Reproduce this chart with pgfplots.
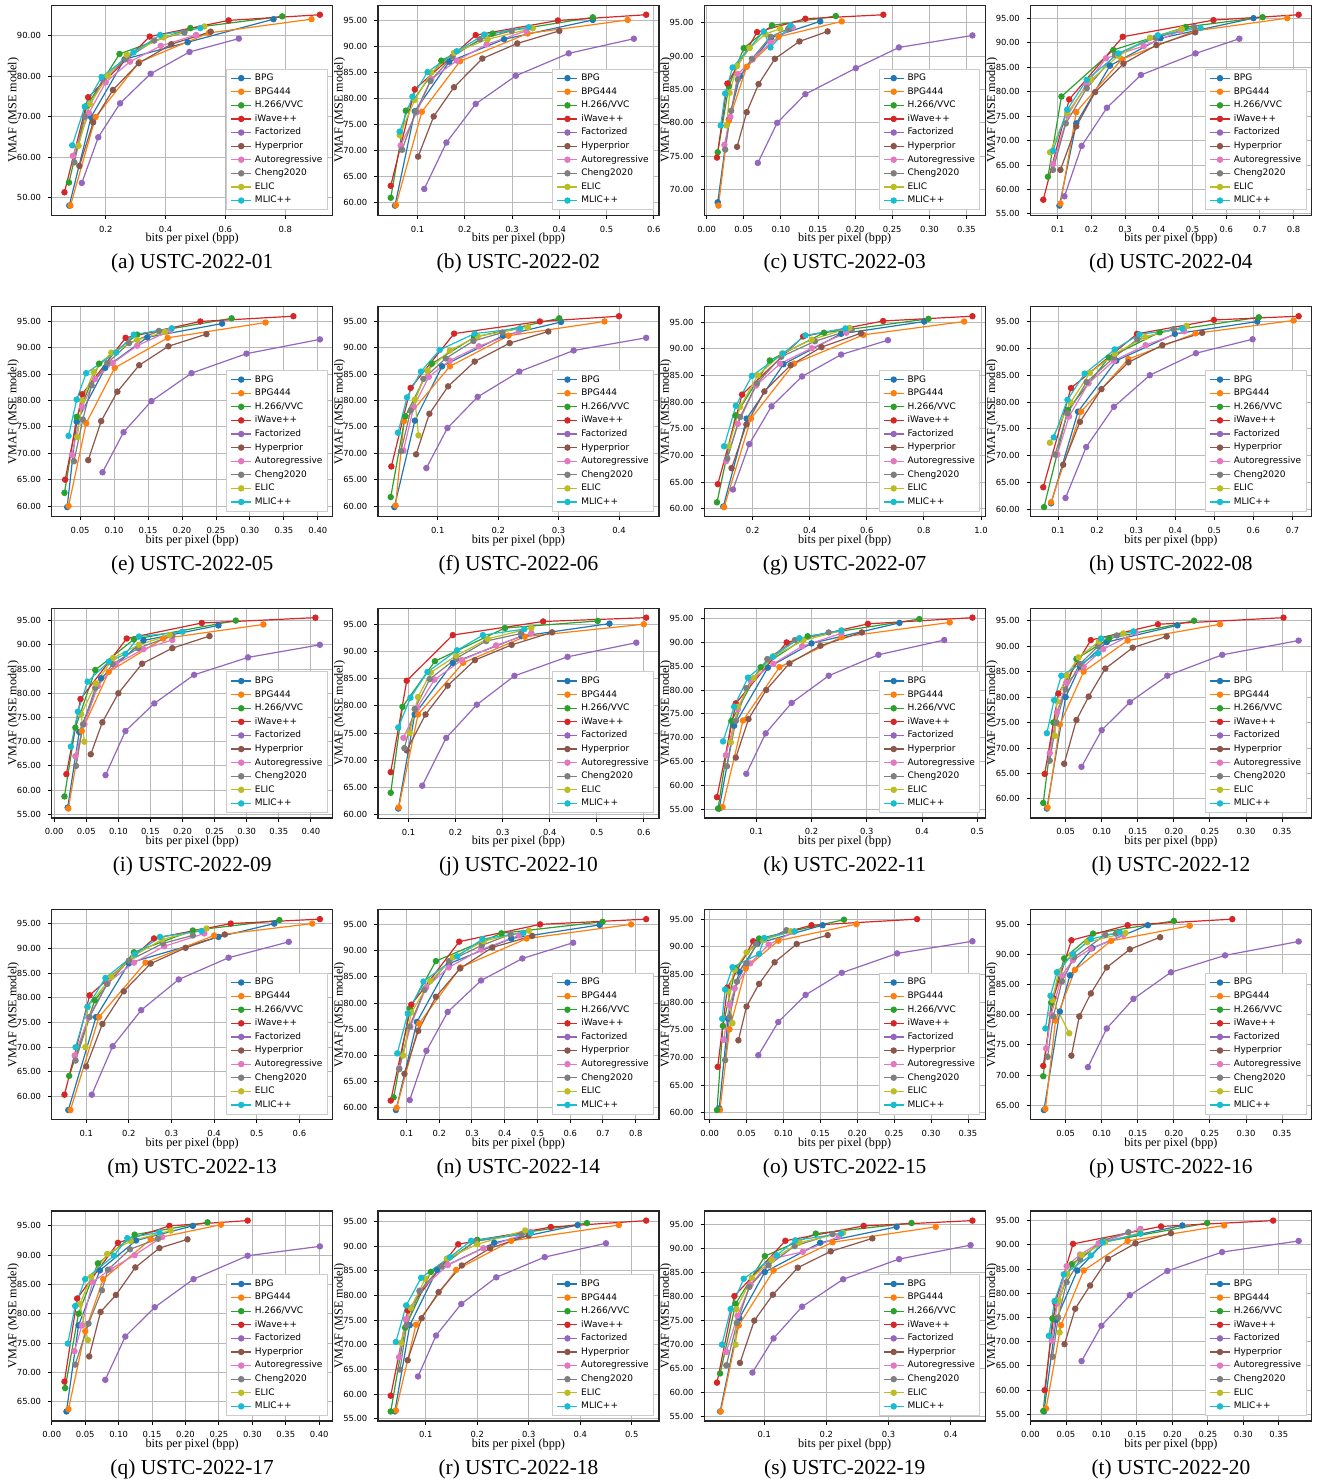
\documentclass[border=0pt]{standalone}
\usepackage{pgfplots}
\pgfplotsset{compat=1.18}
\usepgfplotslibrary{groupplots}
\usepackage{fontspec}
\setmainfont{Liberation Serif}
\newfontfamily\dejavu{DejaVu Sans}

\definecolor{c0}{HTML}{1F77B4}
\definecolor{c1}{HTML}{FF7F0E}
\definecolor{c2}{HTML}{2CA02C}
\definecolor{c3}{HTML}{D62728}
\definecolor{c4}{HTML}{9467BD}
\definecolor{c5}{HTML}{8C564B}
\definecolor{c6}{HTML}{E377C2}
\definecolor{c7}{HTML}{7F7F7F}
\definecolor{c8}{HTML}{BCBD22}
\definecolor{c9}{HTML}{17BECF}

\pgfplotscreateplotcyclelist{tab}{
{c0,mark=*},{c1,mark=*},{c2,mark=*},{c3,mark=*},{c4,mark=*},
{c5,mark=*},{c6,mark=*},{c7,mark=*},{c8,mark=*},{c9,mark=*}}

\pgfplotsset{
  p1/.style={xtick distance=0.1},
  p2/.style={xtick distance=0.05, x tick label style={/pgf/number format/precision=2}},
}

\begin{document}
\begin{tikzpicture}
\begin{groupplot}[
  group style={group size=4 by 5, horizontal sep=22.65pt, vertical sep=45.75pt, group name=G},
  width=140.5pt, height=105pt, scale only axis,
  enlargelimits=0.05,
  grid=major, grid style={black!28, line width=0.45pt},
  axis line style={line width=0.6pt, black!85},
  tick align=outside, tick pos=left, major tick length=1.8pt,
  tick style={line width=0.45pt, black},
  tick label style={font=\dejavu\fontsize{4.2}{5}\selectfont},
  /pgf/number format/assume math mode=true,
  ytick distance=5,
  y tick label style={/pgf/number format/.cd, fixed, fixed zerofill, precision=2},
  x tick label style={/pgf/number format/.cd, fixed, fixed zerofill, precision=1},
  xlabel={bits per pixel (bpp)}, ylabel={VMAF (MSE model)},
  label style={font=\fontsize{6.1}{7.3}\selectfont},
  xlabel style={at={(axis description cs:0.5,-0.113)}, anchor=center},
  ylabel style={at={(axis description cs:-0.136,0.5)}, anchor=center},
  title style={at={(axis description cs:0.5,-0.227)}, anchor=center, yshift=-6.5pt, font=\fontsize{10.7}{12.5}\selectfont},
  cycle list name=tab,
  every axis plot/.append style={line width=0.6pt, mark size=1.3pt},
  legend entries={BPG,BPG444,H.266/VVC,iWave++,Factorized,Hyperprior,Autoregressive,Cheng2020,ELIC,MLIC++},
  legend cell align=left,
  legend image code/.code={\draw[mark repeat=2,mark phase=2] plot coordinates {(0pt,0pt) (5pt,0pt) (10pt,0pt)};},
  legend style={at={(0.982,0.024)}, anchor=south east, font=\dejavu\fontsize{4.5}{5.4}\selectfont,
    draw=black!20, fill=white, row sep=1.6pt, column sep=1.2pt, inner xsep=2pt, inner ysep=2pt,
    nodes={inner sep=0.4pt, text height=3.4pt, text depth=1pt}},
]

% (a)
\nextgroupplot[title={(a) USTC-2022-01}, xtick distance=0.2, ytick distance=10]
\addplot coordinates {(0.078,48.0)(0.151,69.9)(0.263,84.2)(0.474,88.4)(0.761,94.1)};
\addplot coordinates {(0.082,48.0)(0.166,69.9)(0.312,83.5)(0.545,90.7)(0.888,94.1)};
\addplot coordinates {(0.077,53.7)(0.137,72.7)(0.246,85.5)(0.483,91.9)(0.79,94.8)};
\addplot coordinates {(0.062,51.3)(0.141,74.8)(0.347,89.8)(0.611,93.8)(0.916,95.2)};
\addplot coordinates {(0.12,53.6)(0.175,64.9)(0.248,73.3)(0.35,80.6)(0.48,86.0)(0.645,89.3)};
\addplot coordinates {(0.112,57.8)(0.158,68.6)(0.224,76.6)(0.31,83.2)(0.419,87.9)(0.551,91.0)};
\addplot coordinates {(0.09,60.3)(0.144,70.9)(0.2,78.5)(0.281,83.6)(0.384,87.5)(0.502,90.2)};
\addplot coordinates {(0.095,58.7)(0.13,70.0)(0.19,79.3)(0.266,84.2)(0.362,88.8)(0.463,90.8)};
\addplot coordinates {(0.109,62.8)(0.147,73.1)(0.207,80.1)(0.27,85.3)(0.394,89.6)(0.53,92.3)};
\addplot coordinates {(0.088,62.9)(0.13,72.5)(0.186,79.8)(0.293,85.9)(0.382,90.2)(0.516,91.9)};

% (b)
\nextgroupplot[title={(b) USTC-2022-02}, p1]
\addplot coordinates {(0.052,59.4)(0.094,77.5)(0.167,87.0)(0.283,91.3)(0.471,95.0)};
\addplot coordinates {(0.054,59.5)(0.109,77.4)(0.19,87.1)(0.333,92.4)(0.545,95.0)};
\addplot coordinates {(0.043,60.9)(0.075,77.6)(0.15,87.2)(0.259,92.4)(0.471,95.5)};
\addplot coordinates {(0.043,63.2)(0.094,81.7)(0.223,92.1)(0.397,94.9)(0.584,96.0)};
\addplot coordinates {(0.114,62.6)(0.161,71.5)(0.223,78.9)(0.308,84.3)(0.42,88.6)(0.558,91.4)};
\addplot coordinates {(0.101,68.8)(0.134,76.5)(0.177,82.1)(0.237,87.6)(0.311,90.5)(0.4,92.9)};
\addplot coordinates {(0.064,70.9)(0.098,77.3)(0.129,83.7)(0.183,87.2)(0.246,90.3)(0.33,92.9)};
\addplot coordinates {(0.067,70.1)(0.096,77.4)(0.127,83.3)(0.174,88.0)(0.232,91.3)(0.299,92.9)};
\addplot coordinates {(0.062,72.9)(0.094,79.7)(0.129,84.9)(0.177,88.7)(0.248,91.3)(0.344,93.4)};
\addplot coordinates {(0.062,73.6)(0.089,80.3)(0.121,85.0)(0.183,89.0)(0.241,92.2)(0.335,93.6)};

% (c)
\nextgroupplot[title={(c) USTC-2022-03}, p2]
\addplot coordinates {(0.015,68.1)(0.03,80.5)(0.045,87.0)(0.087,92.8)(0.153,95.2)};
\addplot coordinates {(0.016,67.6)(0.03,80.3)(0.054,88.4)(0.097,92.9)(0.182,95.2)};
\addplot coordinates {(0.015,75.6)(0.03,85.5)(0.05,91.2)(0.088,94.6)(0.174,96.0)};
\addplot coordinates {(0.014,74.8)(0.028,85.9)(0.068,93.6)(0.133,95.6)(0.238,96.2)};
\addplot coordinates {(0.069,74.0)(0.095,80.0)(0.133,84.3)(0.201,88.2)(0.259,91.3)(0.358,93.1)};
\addplot coordinates {(0.041,76.4)(0.054,81.6)(0.07,85.8)(0.092,89.6)(0.125,92.2)(0.163,93.7)};
\addplot coordinates {(0.024,76.7)(0.032,80.9)(0.042,87.3)(0.062,89.5)(0.086,92.0)(0.116,94.3)};
\addplot coordinates {(0.025,76.0)(0.033,81.8)(0.042,86.5)(0.061,89.6)(0.086,92.9)(0.11,94.1)};
\addplot coordinates {(0.027,79.6)(0.031,84.5)(0.041,88.5)(0.058,91.2)(0.079,93.3)(0.099,94.1)};
\addplot coordinates {(0.019,79.6)(0.025,84.4)(0.035,88.3)(0.077,93.7)(0.086,91.3)(0.113,94.6)};

% (d)
\nextgroupplot[title={(d) USTC-2022-04}, p1]
\addplot coordinates {(0.105,56.7)(0.155,73.5)(0.255,85.3)(0.405,90.9)(0.681,95.0)};
\addplot coordinates {(0.108,57.1)(0.155,75.8)(0.29,86.6)(0.508,92.4)(0.781,95.0)};
\addplot coordinates {(0.071,62.6)(0.111,79.0)(0.265,88.5)(0.48,93.2)(0.708,95.2)};
\addplot coordinates {(0.057,57.9)(0.134,78.4)(0.293,91.2)(0.562,94.6)(0.815,95.7)};
\addplot coordinates {(0.12,58.6)(0.171,68.9)(0.246,76.7)(0.347,83.4)(0.509,87.8)(0.639,90.8)};
\addplot coordinates {(0.108,64.0)(0.155,72.9)(0.211,79.9)(0.295,85.7)(0.393,89.5)(0.508,92.1)};
\addplot coordinates {(0.086,65.2)(0.13,75.2)(0.185,81.5)(0.243,86.8)(0.355,89.3)(0.465,92.4)};
\addplot coordinates {(0.086,64.0)(0.124,73.5)(0.186,80.7)(0.27,87.5)(0.39,91.0)(0.505,93.2)};
\addplot coordinates {(0.077,67.6)(0.128,75.6)(0.199,82.4)(0.28,87.3)(0.374,91.0)(0.468,92.8)};
\addplot coordinates {(0.086,67.9)(0.128,76.3)(0.186,82.4)(0.28,87.8)(0.397,91.5)(0.524,93.0)};

% (e)
\nextgroupplot[title={(e) USTC-2022-05}, p2]
\addplot coordinates {(0.031,59.8)(0.045,76.0)(0.087,86.2)(0.149,92.0)(0.259,94.6)};
\addplot coordinates {(0.033,60.0)(0.059,75.7)(0.101,86.2)(0.179,91.9)(0.323,94.8)};
\addplot coordinates {(0.027,62.5)(0.045,76.9)(0.078,87.0)(0.134,92.5)(0.273,95.6)};
\addplot coordinates {(0.028,65.0)(0.053,81.2)(0.117,91.9)(0.227,95.0)(0.364,96.0)};
\addplot coordinates {(0.083,66.4)(0.114,74.0)(0.155,79.9)(0.214,85.2)(0.295,88.9)(0.403,91.6)};
\addplot coordinates {(0.062,68.7)(0.081,76.1)(0.105,81.7)(0.137,86.7)(0.18,90.3)(0.236,92.6)};
\addplot coordinates {(0.038,69.7)(0.053,78.8)(0.072,84.1)(0.098,87.1)(0.134,90.4)(0.183,93.3)};
\addplot coordinates {(0.041,68.5)(0.054,76.4)(0.067,82.9)(0.09,87.1)(0.122,90.9)(0.166,93.2)};
\addplot coordinates {(0.046,73.1)(0.053,80.0)(0.07,85.4)(0.096,89.1)(0.134,91.5)(0.175,93.0)};
\addplot coordinates {(0.033,73.3)(0.045,80.2)(0.059,85.2)(0.103,89.1)(0.129,92.5)(0.185,93.7)};

% (f)
\nextgroupplot[title={(f) USTC-2022-06}, p1]
\addplot coordinates {(0.028,59.8)(0.062,76.2)(0.107,86.5)(0.208,92.3)(0.304,94.9)};
\addplot coordinates {(0.03,60.1)(0.044,76.1)(0.12,86.5)(0.217,92.3)(0.376,95.0)};
\addplot coordinates {(0.022,61.7)(0.046,77.0)(0.09,87.0)(0.16,92.0)(0.301,95.6)};
\addplot coordinates {(0.023,67.5)(0.055,82.4)(0.127,92.7)(0.269,95.0)(0.4,96.0)};
\addplot coordinates {(0.081,67.2)(0.116,74.8)(0.166,80.7)(0.235,85.5)(0.325,89.5)(0.445,91.9)};
\addplot coordinates {(0.064,69.8)(0.086,77.5)(0.117,82.7)(0.161,87.4)(0.219,90.9)(0.283,93.1)};
\addplot coordinates {(0.043,70.5)(0.06,78.8)(0.085,84.5)(0.12,87.6)(0.168,90.3)(0.234,93.1)};
\addplot coordinates {(0.039,70.4)(0.055,78.1)(0.076,84.1)(0.113,88.0)(0.159,91.3)(0.207,92.9)};
\addplot coordinates {(0.068,73.4)(0.062,80.2)(0.083,85.7)(0.12,89.5)(0.166,92.2)(0.249,93.9)};
\addplot coordinates {(0.034,73.9)(0.049,80.6)(0.072,85.5)(0.103,89.6)(0.161,92.7)(0.236,93.7)};

% (g)
\nextgroupplot[title={(g) USTC-2022-07}, xtick distance=0.2]
\addplot coordinates {(0.097,60.4)(0.179,76.9)(0.308,87.1)(0.51,92.8)(0.801,95.1)};
\addplot coordinates {(0.1,60.3)(0.194,76.9)(0.345,87.2)(0.588,92.6)(0.941,95.1)};
\addplot coordinates {(0.075,61.2)(0.14,77.5)(0.26,87.8)(0.45,93.0)(0.816,95.6)};
\addplot coordinates {(0.078,64.6)(0.163,81.4)(0.377,92.3)(0.657,95.2)(0.97,96.1)};
\addplot coordinates {(0.131,63.6)(0.188,72.1)(0.266,79.2)(0.373,84.8)(0.51,88.9)(0.674,91.6)};
\addplot coordinates {(0.126,67.6)(0.178,75.8)(0.241,82.0)(0.333,86.9)(0.441,90.3)(0.579,92.9)};
\addplot coordinates {(0.107,68.9)(0.148,75.9)(0.212,83.1)(0.296,87.2)(0.407,90.1)(0.528,93.0)};
\addplot coordinates {(0.111,69.4)(0.156,77.2)(0.215,83.5)(0.3,88.5)(0.418,91.4)(0.547,93.6)};
\addplot coordinates {(0.116,71.7)(0.156,79.1)(0.218,85.0)(0.303,89.1)(0.407,91.7)(0.539,93.9)};
\addplot coordinates {(0.1,71.7)(0.141,79.3)(0.197,84.9)(0.306,89.1)(0.385,92.5)(0.525,93.8)};

% (h)
\nextgroupplot[title={(h) USTC-2022-08}, p1]
\addplot coordinates {(0.082,61.1)(0.151,78.2)(0.249,87.7)(0.399,92.7)(0.61,95.0)};
\addplot coordinates {(0.082,61.3)(0.159,78.2)(0.28,88.0)(0.452,92.8)(0.703,95.2)};
\addplot coordinates {(0.064,60.4)(0.125,78.5)(0.23,88.3)(0.36,93.0)(0.614,95.8)};
\addplot coordinates {(0.062,64.1)(0.133,82.6)(0.302,92.7)(0.499,95.3)(0.716,96.0)};
\addplot coordinates {(0.119,62.1)(0.172,71.6)(0.243,79.1)(0.335,85.0)(0.453,89.1)(0.598,91.7)};
\addplot coordinates {(0.113,68.3)(0.156,76.3)(0.211,82.4)(0.28,87.4)(0.367,90.6)(0.469,92.9)};
\addplot coordinates {(0.098,70.2)(0.128,77.3)(0.178,83.5)(0.243,87.7)(0.324,90.6)(0.423,93.2)};
\addplot coordinates {(0.092,70.2)(0.124,77.9)(0.173,83.7)(0.243,88.3)(0.303,91.7)(0.396,93.6)};
\addplot coordinates {(0.079,72.4)(0.132,79.9)(0.181,85.4)(0.245,89.0)(0.323,92.1)(0.429,94.2)};
\addplot coordinates {(0.089,73.4)(0.124,80.4)(0.168,85.3)(0.245,89.8)(0.308,92.6)(0.418,93.7)};

% (i)
\nextgroupplot[title={(i) USTC-2022-09}, p2]
\addplot coordinates {(0.021,56.4)(0.039,72.0)(0.073,83.1)(0.139,90.9)(0.256,94.0)};
\addplot coordinates {(0.022,56.2)(0.043,72.2)(0.085,84.4)(0.17,91.3)(0.326,94.2)};
\addplot coordinates {(0.016,58.7)(0.033,72.9)(0.064,84.8)(0.124,91.1)(0.283,95.0)};
\addplot coordinates {(0.019,63.3)(0.041,78.8)(0.113,91.3)(0.23,94.5)(0.407,95.6)};
\addplot coordinates {(0.08,63.1)(0.111,72.2)(0.156,77.9)(0.218,83.8)(0.302,87.4)(0.414,90.0)};
\addplot coordinates {(0.057,67.4)(0.075,74.0)(0.1,80.0)(0.137,86.1)(0.184,89.3)(0.242,91.8)};
\addplot coordinates {(0.033,67.0)(0.047,73.6)(0.068,81.5)(0.096,86.0)(0.139,89.1)(0.184,91.0)};
\addplot coordinates {(0.034,65.0)(0.045,73.6)(0.064,81.1)(0.091,86.0)(0.131,89.3)(0.184,91.9)};
\addplot coordinates {(0.047,70.0)(0.042,75.7)(0.065,82.0)(0.092,87.3)(0.132,90.0)(0.18,92.0)};
\addplot coordinates {(0.026,69.0)(0.037,76.2)(0.052,82.4)(0.085,86.5)(0.111,88.1)(0.132,91.7)(0.2,92.7)};

% (j)
\nextgroupplot[title={(j) USTC-2022-10}, p1]
\addplot coordinates {(0.078,61.1)(0.113,78.4)(0.194,87.9)(0.34,92.8)(0.527,95.1)};
\addplot coordinates {(0.079,61.3)(0.12,78.4)(0.216,87.9)(0.347,92.7)(0.6,95.0)};
\addplot coordinates {(0.062,64.0)(0.087,79.8)(0.156,88.2)(0.305,94.3)(0.502,95.6)};
\addplot coordinates {(0.062,67.8)(0.096,84.6)(0.194,93.0)(0.386,95.5)(0.605,96.2)};
\addplot coordinates {(0.129,65.3)(0.18,74.1)(0.245,80.2)(0.325,85.5)(0.438,89.0)(0.584,91.6)};
\addplot coordinates {(0.096,71.8)(0.136,78.4)(0.183,83.7)(0.241,88.4)(0.319,91.2)(0.405,93.5)};
\addplot coordinates {(0.089,74.1)(0.118,79.6)(0.155,84.8)(0.213,88.4)(0.286,91.1)(0.361,93.4)};
\addplot coordinates {(0.091,72.2)(0.113,79.4)(0.145,84.9)(0.201,88.7)(0.265,91.9)(0.339,93.3)};
\addplot coordinates {(0.102,75.0)(0.12,81.6)(0.147,86.1)(0.201,89.2)(0.268,92.3)(0.361,94.3)};
\addplot coordinates {(0.078,76.0)(0.104,81.5)(0.14,86.2)(0.203,90.2)(0.258,93.0)(0.346,94.1)};

% (k)
\nextgroupplot[title={(k) USTC-2022-11}, p1]
\addplot coordinates {(0.033,55.1)(0.06,72.5)(0.121,84.7)(0.2,89.8)(0.359,94.1)};
\addplot coordinates {(0.039,55.4)(0.076,73.6)(0.142,84.8)(0.254,91.1)(0.45,94.2)};
\addplot coordinates {(0.031,55.1)(0.055,73.5)(0.108,84.8)(0.193,91.3)(0.395,94.9)};
\addplot coordinates {(0.029,57.5)(0.063,77.2)(0.155,90.0)(0.302,93.9)(0.491,95.2)};
\addplot coordinates {(0.082,62.4)(0.117,70.9)(0.164,77.3)(0.231,83.0)(0.321,87.4)(0.44,90.5)};
\addplot coordinates {(0.063,65.8)(0.086,73.9)(0.118,80.0)(0.16,85.6)(0.216,89.3)(0.291,92.1)};
\addplot coordinates {(0.045,66.3)(0.067,76.0)(0.09,82.0)(0.131,85.5)(0.183,89.2)(0.254,91.9)};
\addplot coordinates {(0.047,64.0)(0.063,73.5)(0.082,80.4)(0.12,86.5)(0.17,90.5)(0.231,92.1)};
\addplot coordinates {(0.054,69.0)(0.067,76.5)(0.095,82.5)(0.131,87.1)(0.185,90.4)(0.254,92.5)};
\addplot coordinates {(0.04,69.2)(0.06,76.5)(0.085,82.6)(0.13,87.0)(0.178,90.9)(0.254,92.5)};

% (l)
\nextgroupplot[title={(l) USTC-2022-12}, p2]
\addplot coordinates {(0.024,58.1)(0.05,80.0)(0.07,86.0)(0.107,90.8)(0.205,94.1)};
\addplot coordinates {(0.025,58.3)(0.042,74.6)(0.075,85.0)(0.136,91.1)(0.264,94.3)};
\addplot coordinates {(0.019,59.2)(0.033,75.0)(0.065,87.5)(0.11,91.5)(0.228,95.0)};
\addplot coordinates {(0.021,64.9)(0.04,80.7)(0.085,91.2)(0.178,94.3)(0.352,95.6)};
\addplot coordinates {(0.072,66.3)(0.1,73.5)(0.139,79.0)(0.191,84.2)(0.267,88.3)(0.373,91.1)};
\addplot coordinates {(0.048,66.9)(0.065,75.5)(0.082,80.1)(0.105,85.6)(0.143,89.7)(0.19,91.9)};
\addplot coordinates {(0.028,69.0)(0.038,77.0)(0.051,82.8)(0.075,86.0)(0.102,89.4)(0.147,92.7)};
\addplot coordinates {(0.028,67.5)(0.037,75.0)(0.05,81.5)(0.07,86.5)(0.095,90.0)(0.121,92.1)};
\addplot coordinates {(0.035,72.4)(0.038,79.2)(0.051,84.2)(0.068,87.8)(0.096,90.9)(0.13,92.5)};
\addplot coordinates {(0.024,72.9)(0.034,79.4)(0.044,84.2)(0.095,88.6)(0.099,91.5)(0.144,92.9)};

% (m)
\nextgroupplot[title={(m) USTC-2022-13}, p1]
\addplot coordinates {(0.058,57.3)(0.123,76.1)(0.2,87.0)(0.41,92.3)(0.541,95.0)};
\addplot coordinates {(0.063,57.3)(0.13,76.1)(0.239,87.1)(0.4,92.6)(0.63,95.0)};
\addplot coordinates {(0.06,64.2)(0.12,79.5)(0.212,89.2)(0.35,93.6)(0.553,95.7)};
\addplot coordinates {(0.049,60.4)(0.108,80.5)(0.259,92.0)(0.439,95.0)(0.648,95.9)};
\addplot coordinates {(0.113,60.4)(0.162,70.2)(0.229,77.5)(0.317,83.7)(0.434,88.1)(0.575,91.3)};
\addplot coordinates {(0.1,66.1)(0.138,74.7)(0.188,81.3)(0.251,86.9)(0.333,90.1)(0.425,92.8)};
\addplot coordinates {(0.073,68.3)(0.105,76.0)(0.15,83.0)(0.212,87.1)(0.283,90.4)(0.377,93.0)};
\addplot coordinates {(0.075,67.3)(0.108,76.1)(0.149,82.8)(0.2,87.5)(0.28,91.0)(0.35,92.6)};
\addplot coordinates {(0.098,70.0)(0.103,78.1)(0.159,84.2)(0.212,88.5)(0.278,91.8)(0.382,94.0)};
\addplot coordinates {(0.075,70.0)(0.103,78.2)(0.145,84.0)(0.214,88.8)(0.273,92.3)(0.37,93.5)};

% (n)
\nextgroupplot[title={(n) USTC-2022-14}, p1]
\addplot coordinates {(0.068,59.6)(0.132,76.4)(0.23,87.5)(0.42,92.3)(0.69,94.9)};
\addplot coordinates {(0.07,60.0)(0.139,76.1)(0.265,86.8)(0.467,92.3)(0.786,95.0)};
\addplot coordinates {(0.061,62.0)(0.11,79.0)(0.19,88.0)(0.39,93.3)(0.699,95.5)};
\addplot coordinates {(0.052,61.4)(0.115,79.7)(0.261,91.7)(0.508,95.0)(0.832,96.0)};
\addplot coordinates {(0.11,61.5)(0.161,70.9)(0.226,78.3)(0.328,84.3)(0.454,88.5)(0.609,91.5)};
\addplot coordinates {(0.094,66.5)(0.136,74.7)(0.19,81.2)(0.264,86.6)(0.362,90.6)(0.484,92.8)};
\addplot coordinates {(0.078,67.6)(0.112,75.5)(0.16,83.0)(0.229,86.8)(0.328,90.2)(0.444,92.9)};
\addplot coordinates {(0.078,67.4)(0.109,75.5)(0.155,82.5)(0.23,88.0)(0.33,91.0)(0.418,93.1)};
\addplot coordinates {(0.09,70.0)(0.115,78.2)(0.173,84.2)(0.242,88.7)(0.336,91.8)(0.474,93.8)};
\addplot coordinates {(0.072,70.4)(0.104,78.0)(0.152,84.1)(0.255,88.9)(0.332,92.2)(0.457,93.4)};

% (o)
\nextgroupplot[title={(o) USTC-2022-15}, p2]
\addplot coordinates {(0.013,60.8)(0.025,77.0)(0.04,85.5)(0.065,90.6)(0.153,93.9)};
\addplot coordinates {(0.014,60.5)(0.027,75.1)(0.049,86.1)(0.093,91.1)(0.199,94.1)};
\addplot coordinates {(0.01,60.5)(0.018,75.7)(0.035,86.0)(0.067,91.5)(0.182,94.9)};
\addplot coordinates {(0.011,68.3)(0.024,82.6)(0.059,91.0)(0.138,93.9)(0.281,95.0)};
\addplot coordinates {(0.066,70.4)(0.093,76.4)(0.13,81.3)(0.179,85.3)(0.254,88.8)(0.356,91.0)};
\addplot coordinates {(0.039,73.1)(0.05,79.2)(0.067,83.3)(0.088,87.2)(0.118,90.5)(0.16,92.1)};
\addplot coordinates {(0.019,73.2)(0.027,79.5)(0.034,82.5)(0.055,87.0)(0.08,90.4)(0.114,92.7)};
\addplot coordinates {(0.021,69.5)(0.027,77.3)(0.037,83.7)(0.05,87.0)(0.063,90.5)(0.104,93.0)};
\addplot coordinates {(0.031,76.2)(0.025,81.9)(0.034,85.8)(0.05,89.0)(0.073,91.2)(0.11,92.8)};
\addplot coordinates {(0.017,77.0)(0.021,82.3)(0.031,86.3)(0.067,88.7)(0.074,91.6)(0.115,92.8)};

% (p)
\nextgroupplot[title={(p) USTC-2022-16}, p2]
\addplot coordinates {(0.02,64.2)(0.042,80.5)(0.056,86.5)(0.087,91.0)(0.164,94.8)};
\addplot coordinates {(0.022,64.4)(0.036,79.0)(0.063,87.4)(0.113,92.2)(0.222,94.7)};
\addplot coordinates {(0.019,69.8)(0.03,82.0)(0.048,89.3)(0.088,93.4)(0.2,95.5)};
\addplot coordinates {(0.019,71.5)(0.033,82.7)(0.058,92.3)(0.136,94.8)(0.281,95.8)};
\addplot coordinates {(0.081,71.3)(0.107,77.7)(0.144,82.6)(0.196,87.0)(0.271,89.8)(0.373,92.1)};
\addplot coordinates {(0.058,73.2)(0.069,79.7)(0.085,83.5)(0.107,87.8)(0.139,90.8)(0.181,92.8)};
\addplot coordinates {(0.023,74.4)(0.03,80.0)(0.045,86.5)(0.06,89.0)(0.085,90.9)(0.13,93.2)};
\addplot coordinates {(0.025,73.0)(0.033,79.7)(0.045,85.5)(0.062,89.5)(0.105,93.2)(0.12,93.4)};
\addplot coordinates {(0.055,76.9)(0.032,82.4)(0.04,87.1)(0.058,89.9)(0.08,92.0)(0.133,93.5)};
\addplot coordinates {(0.022,77.7)(0.029,83.1)(0.038,87.0)(0.06,90.0)(0.085,92.5)(0.125,93.6)};

% (q)
\nextgroupplot[title={(q) USTC-2022-17}, p2]
\addplot coordinates {(0.022,63.3)(0.04,78.0)(0.072,87.4)(0.126,92.5)(0.211,95.0)};
\addplot coordinates {(0.025,63.7)(0.05,77.0)(0.077,85.9)(0.148,92.7)(0.253,95.2)};
\addplot coordinates {(0.02,67.3)(0.04,80.0)(0.069,88.6)(0.124,93.5)(0.233,95.6)};
\addplot coordinates {(0.019,68.4)(0.038,82.6)(0.099,92.1)(0.176,95.0)(0.293,95.9)};
\addplot coordinates {(0.08,68.7)(0.11,76.1)(0.154,81.1)(0.212,85.9)(0.293,89.9)(0.401,91.5)};
\addplot coordinates {(0.056,72.7)(0.073,80.3)(0.096,83.2)(0.125,87.9)(0.161,91.2)(0.203,92.7)};
\addplot coordinates {(0.034,73.6)(0.045,78.0)(0.061,85.4)(0.088,87.6)(0.124,90.0)(0.165,93.1)};
\addplot coordinates {(0.035,71.3)(0.055,78.3)(0.075,84.0)(0.084,87.5)(0.117,91.0)(0.159,92.8)};
\addplot coordinates {(0.054,75.5)(0.042,81.6)(0.059,86.3)(0.083,90.2)(0.118,92.4)(0.178,94.2)};
\addplot coordinates {(0.024,74.9)(0.035,81.3)(0.05,85.9)(0.093,89.9)(0.113,92.9)(0.161,93.9)};

% (r)
\nextgroupplot[title={(r) USTC-2022-18}, p1]
\addplot coordinates {(0.04,56.5)(0.069,74.0)(0.122,85.2)(0.233,90.7)(0.395,94.3)};
\addplot coordinates {(0.042,56.7)(0.081,74.1)(0.159,85.2)(0.266,91.1)(0.475,94.3)};
\addplot coordinates {(0.032,56.5)(0.06,73.5)(0.11,84.8)(0.2,91.3)(0.413,94.7)};
\addplot coordinates {(0.032,59.7)(0.065,77.0)(0.163,90.4)(0.343,93.9)(0.528,95.2)};
\addplot coordinates {(0.085,63.6)(0.12,71.9)(0.169,78.3)(0.237,83.7)(0.331,87.8)(0.45,90.6)};
\addplot coordinates {(0.065,66.9)(0.092,75.4)(0.125,80.7)(0.17,86.1)(0.225,89.6)(0.3,92.2)};
\addplot coordinates {(0.048,67.5)(0.061,75.2)(0.088,81.0)(0.143,86.2)(0.212,89.6)(0.304,92.9)};
\addplot coordinates {(0.05,65.0)(0.063,74.0)(0.088,80.9)(0.13,85.9)(0.196,91.0)(0.286,92.4)};
\addplot coordinates {(0.052,70.4)(0.071,77.5)(0.099,83.4)(0.141,87.5)(0.2,90.4)(0.293,93.2)};
\addplot coordinates {(0.042,70.6)(0.062,78.0)(0.091,83.6)(0.147,87.8)(0.188,91.1)(0.304,92.7)};

% (s)
\nextgroupplot[title={(s) USTC-2022-19}, p1]
\addplot coordinates {(0.029,56.1)(0.06,75.5)(0.101,85.1)(0.19,91.2)(0.313,94.5)};
\addplot coordinates {(0.03,56.1)(0.059,74.0)(0.115,85.4)(0.21,91.3)(0.376,94.5)};
\addplot coordinates {(0.029,64.0)(0.054,78.5)(0.101,88.4)(0.183,93.1)(0.337,95.3)};
\addplot coordinates {(0.024,62.1)(0.052,80.1)(0.134,91.6)(0.26,94.7)(0.435,95.8)};
\addplot coordinates {(0.081,64.2)(0.115,71.3)(0.161,77.9)(0.227,83.6)(0.317,87.8)(0.432,90.7)};
\addplot coordinates {(0.061,66.2)(0.084,75.0)(0.114,80.4)(0.154,86.0)(0.207,89.4)(0.274,92.1)};
\addplot coordinates {(0.039,68.5)(0.057,76.0)(0.078,82.5)(0.114,87.9)(0.162,89.3)(0.22,92.5)};
\addplot coordinates {(0.039,65.7)(0.056,74.5)(0.076,82.0)(0.107,86.5)(0.149,90.5)(0.21,93.0)};
\addplot coordinates {(0.054,70.0)(0.055,77.4)(0.08,83.9)(0.112,87.6)(0.156,91.2)(0.227,93.3)};
\addplot coordinates {(0.032,70.0)(0.046,77.4)(0.067,83.7)(0.12,88.6)(0.15,91.7)(0.224,93.1)};

% (t)
\nextgroupplot[title={(t) USTC-2022-20}, p2]
\addplot coordinates {(0.019,55.6)(0.036,74.5)(0.066,84.7)(0.105,90.7)(0.214,94.0)};
\addplot coordinates {(0.022,56.2)(0.043,73.4)(0.075,84.7)(0.137,90.8)(0.273,94.0)};
\addplot coordinates {(0.018,55.7)(0.031,74.8)(0.058,86.0)(0.1,90.5)(0.249,94.5)};
\addplot coordinates {(0.02,60.0)(0.035,78.0)(0.06,90.2)(0.184,93.8)(0.342,95.0)};
\addplot coordinates {(0.072,66.0)(0.1,73.3)(0.14,79.6)(0.193,84.6)(0.27,88.5)(0.378,90.8)};
\addplot coordinates {(0.048,69.5)(0.063,76.8)(0.084,81.6)(0.109,87.1)(0.148,90.3)(0.198,92.4)};
\addplot coordinates {(0.03,70.2)(0.038,78.0)(0.051,85.6)(0.07,88.0)(0.096,90.3)(0.155,93.3)};
\addplot coordinates {(0.031,66.9)(0.039,75.0)(0.051,82.3)(0.07,87.0)(0.102,90.9)(0.138,92.6)};
\addplot coordinates {(0.041,71.9)(0.04,78.5)(0.052,84.0)(0.072,87.9)(0.105,90.5)(0.155,92.5)};
\addplot coordinates {(0.026,71.2)(0.034,78.4)(0.047,83.9)(0.085,87.8)(0.102,90.5)(0.155,92.3)};

\end{groupplot}
\pgfresetboundingbox
\path[use as bounding box] ([xshift=-25.85pt,yshift=2.6pt]G c1r1.north west) rectangle ([xshift=4.2pt,yshift=-30.5pt]G c4r5.south east);
\end{tikzpicture}
\end{document}
